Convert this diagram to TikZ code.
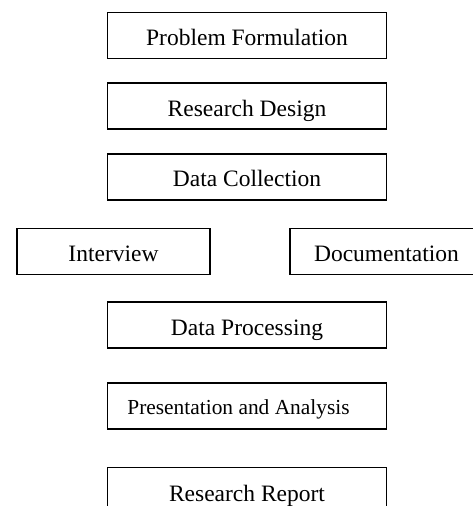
\documentclass[tikz,border=0pt]{standalone}
\usepackage{fontspec}
\setmainfont{Liberation Serif}
\begin{document}
\begin{tikzpicture}[x=1pt,y=-1pt,
  stagebox/.style={draw=black, line width=1.1pt, rectangle, inner sep=0pt, minimum width=279pt, minimum height=46pt},
  sidebox/.style={draw=black, line width=1.1pt, rectangle, inner sep=0pt, minimum width=193pt, minimum height=46pt},
  lbl/.style={inner sep=0pt, anchor=base, font=\fontsize{23.5}{28}\selectfont},
  smalllbl/.style={inner sep=0pt, anchor=base, font=\fontsize{21.4}{26}\selectfont}]
\useasboundingbox (0,0) rectangle (473,506);
\clip (0,0) rectangle (473,506);
\fill[white] (0,0) rectangle (473,506);
\node[stagebox] (pf) at (247,35.5) {};
\node[stagebox] (rd) at (247,106) {};
\node[stagebox] (dc) at (247,177) {};
\node[sidebox] (iv) at (113.5,251.3) {};
\node[sidebox] (doc) at (386.5,251.3) {};
\node[stagebox] (dp) at (247,325) {};
\node[stagebox] (pa) at (247,406) {};
\node[stagebox] (rr) at (247,490.3) {};
\node[lbl] (pft) at ([yshift=-10.2pt]pf.center) {Problem Formulation};
\node[lbl] (rdt) at ([yshift=-10pt]rd.center) {Research Design};
\node[lbl] (dct) at ([yshift=-9.7pt]dc.center) {Data Collection};
\node[lbl] (ivt) at ([yshift=-9.7pt]iv.center) {Interview};
\node[lbl] (doct) at ([yshift=-9.7pt]doc.center) {Documentation};
\node[lbl] (dpt) at ([yshift=-10pt]dp.center) {Data Processing};
\node[smalllbl] (pat) at ([xshift=-8.5pt,yshift=-8.3pt]pa.center) {Presentation and Analysis};
\node[lbl] (rrt) at ([yshift=-10.7pt]rr.center) {Research Report};
\end{tikzpicture}
\end{document}
